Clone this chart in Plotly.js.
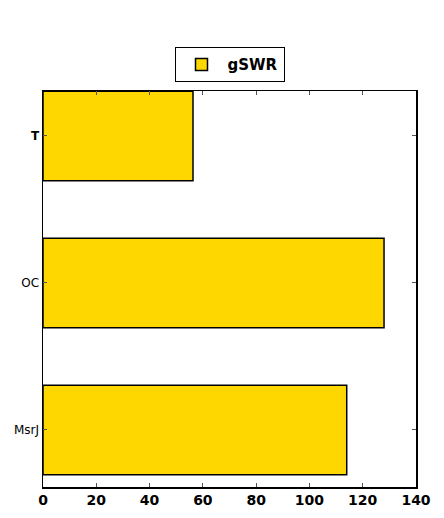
<!DOCTYPE html>
<html><head><meta charset="utf-8">
<script src="https://cdn.plot.ly/plotly-3.0.1.min.js"></script>
<style>html,body{margin:0;padding:0;background:#fff}</style>
</head><body>
<div id="chart" style="width:444px;height:518px"></div>
<script>
const categories = ["MsrJ", "OC", "T"];
const tickLabels = ["MsrJ", "OC", "<b>T</b>"];
const values = [114, 128, 56.3];
const seriesName = "gSWR";

const trace = {
  type: "bar",
  orientation: "h",
  x: values,
  y: [0, 1, 2],
  width: 0.61,
  name: "<b>" + seriesName + "</b>",
  marker: {color: "#FFD700", line: {color: "#000", width: 1.5}},
  showlegend: true,
  hoverinfo: "x+y"
};

const layout = {
  width: 444, height: 518,
  margin: {l: 43, r: 28, t: 91, b: 31},
  paper_bgcolor: "#fff", plot_bgcolor: "#fff",
  font: {family: "DejaVu Sans", color: "#000"},
  showlegend: true,
  legend: {
    orientation: "h", x: 0.5, xanchor: "center", y: 1.022, yanchor: "bottom",
    bordercolor: "#000", borderwidth: 1, bgcolor: "#fff", itemwidth: 42,
    font: {size: 15, family: "DejaVu Sans", color: "#000"}
  },
  xaxis: {
    range: [0, 140], tickvals: [0, 20, 40, 60, 80, 100, 120, 140],
    ticktext: ["<b>0</b>", "<b>20</b>", "<b>40</b>", "<b>60</b>", "<b>80</b>", "<b>100</b>", "<b>120</b>", "<b>140</b>"],
    ticks: "inside", ticklen: 4, tickcolor: "#555", mirror: "ticks",
    showline: true, linecolor: "#000", linewidth: 1.5, showgrid: false, zeroline: false,
    tickfont: {size: 14, family: "DejaVu Sans", color: "#000"}
  },
  yaxis: {
    range: [-0.388, 2.306], tickvals: [0, 1, 2], ticktext: tickLabels,
    ticks: "inside", ticklen: 4, tickcolor: "#555", mirror: "ticks",
    showline: true, linecolor: "#000", linewidth: 1.5, showgrid: false, zeroline: false,
    tickfont: {size: 12, family: "DejaVu Sans", color: "#000"}
  }
};

Plotly.newPlot("chart", [trace], layout, {displayModeBar: false, staticPlot: true});
</script>
</body></html>
